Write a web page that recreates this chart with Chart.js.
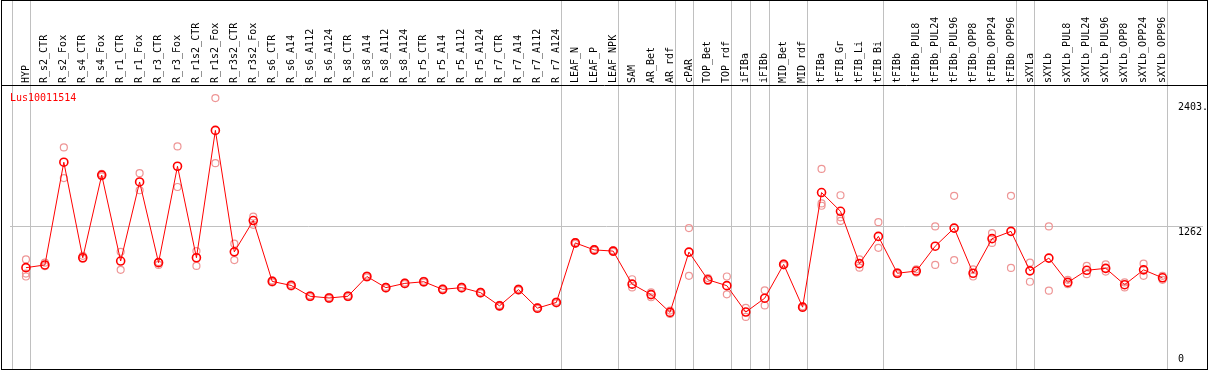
<!DOCTYPE html>
<html>
<head>
<title>Lus10011514</title>
<script src="https://cdn.jsdelivr.net/npm/chart.js@4.4.1/dist/chart.umd.min.js"></script>
<style>
  body { margin: 0; background: #fff; }
  canvas { display: block; }
</style>
<script>
var geneName = "Lus10011514";

var categories = [
    "HYP", "R_s2_CTR", "R_s2_Fox", "R_s4_CTR", "R_s4_Fox", "R_r1_CTR", "R_r1_Fox", "R_r3_CTR",
    "R_r3_Fox", "R_r1s2_CTR", "R_r1s2_Fox", "R_r3s2_CTR", "R_r3s2_Fox", "R_s6_CTR", "R_s6_A14",
    "R_s6_A112", "R_s6_A124", "R_s8_CTR", "R_s8_A14", "R_s8_A112", "R_s8_A124", "R_r5_CTR",
    "R_r5_A14", "R_r5_A112", "R_r5_A124", "R_r7_CTR", "R_r7_A14", "R_r7_A112", "R_r7_A124",
    "LEAF_N", "LEAF_P", "LEAF_NPK", "SAM", "AR_Bet", "AR_rdf", "cPAR", "TOP_Bet", "TOP_rdf",
    "iFIBa", "iFIBb", "MID_Bet", "MID_rdf", "tFIBa", "tFIB_Gr", "tFIB_Li", "tFIB_Bi", "tFIBb",
    "tFIBb_PUL8", "tFIBb_PUL24", "tFIBb_PUL96", "tFIBb_OPP8", "tFIBb_OPP24", "tFIBb_OPP96",
    "sXYLa", "sXYLb", "sXYLb_PUL8", "sXYLb_PUL24", "sXYLb_PUL96", "sXYLb_OPP8", "sXYLb_OPP24",
    "sXYLb_OPP96"
];

// mean expression per sample
var means = [
    887, 912, 1854, 978, 1736, 948, 1673, 933, 1817, 978, 2146, 1032, 1319,
    761, 724, 625, 609, 625, 806, 704, 743, 758, 688, 704, 658, 537, 686, 516, 568,
    1114, 1050, 1039, 736, 640, 477, 1030, 776, 722, 480, 607, 917, 525,
    1576, 1404, 924, 1174, 836, 856, 1084, 1250, 836, 1153, 1220,
    858, 975, 752, 863, 881, 731, 867, 794
];

// replicates
var rep1 = [
    963, 933, 1990, 996, 1748, 1032, 1754, 939, 1999, 1039, 2442, 1107, 1356,
    770, 733, 633, 617, 633, 815, 712, 751, 766, 696, 712, 666, 545, 694, 524, 576,
    1122, 1058, 1047, 781, 661, 494, 1250, 792, 806, 519, 679, 925, 533,
    1793, 1551, 963, 1304, 844, 872, 1265, 1546, 872, 1204, 1546,
    933, 1265, 776, 903, 917, 752, 924, 812
];
var rep2 = [
    833, 901, 1709, 969, 1725, 867, 1597, 912, 1627, 903, 1845, 957, 1280,
    752, 715, 617, 601, 617, 797, 696, 735, 750, 680, 696, 650, 529, 678, 508, 560,
    1106, 1042, 1031, 706, 616, 462, 812, 765, 643, 435, 541, 909, 517,
    1476, 1349, 887, 1069, 828, 842, 912, 957, 806, 1114, 885,
    758, 676, 736, 827, 851, 706, 812, 776
];
var rep3 = [
    806, null, null, null, null, null, null, null, null, null, null, null, null,
    null, null, null, null, null, null, null, null, null, null, null, null, null, null, null, null,
    null, null, null, null, null, null, null, null, null, null, null, null, null,
    1455, 1316, null, null, null, null, null, null, null, null, null,
    null, null, null, null, null, null, null, null
];

var yTicks = [0, 1262, 2403];
var yTickLabels = ["0", "1262", "2403."];

// sample index after which a group separator is drawn
var groupEnds = [-1, 0, 28, 31, 34, 35, 37, 38, 39, 41, 45, 52, 53, 60];

function points(arr) {
    return arr.map(function (v, i) { return v == null ? null : { x: i, y: v }; })
              .filter(function (p) { return p; });
}

var monoFont = '10px "DejaVu Sans Mono", monospace';

var framePlugin = {
    id: 'frame',
    beforeDatasetsDraw: function (chart) {
        var ctx = chart.ctx, xs = chart.scales.x;
        ctx.save();
        ctx.strokeStyle = 'rgb(192,192,192)';
        ctx.lineWidth = 1;
        groupEnds.forEach(function (i) {
            var px = Math.round(xs.getPixelForValue(i + 0.24)) + 0.5;
            ctx.beginPath();
            ctx.moveTo(px, 0);
            ctx.lineTo(px, 369);
            ctx.stroke();
        });
        ctx.restore();
    },
    afterDraw: function (chart) {
        var ctx = chart.ctx, ys = chart.scales.y, area = chart.chartArea;
        ctx.save();
        ctx.strokeStyle = '#000';
        ctx.lineWidth = 1;
        ctx.strokeRect(1.5, 0.5, 1206, 369);
        ctx.beginPath();
        ctx.moveTo(1, area.top - 0.5);
        ctx.lineTo(1208, area.top - 0.5);
        ctx.stroke();

        ctx.font = monoFont;
        ctx.textAlign = 'left';
        ctx.textBaseline = 'alphabetic';
        ctx.fillStyle = '#000';
        yTicks.forEach(function (v, k) {
            var py = ys.getPixelForValue(v) + 8;
            if (py > area.bottom - 2) py = area.bottom - 2;
            ctx.fillText(yTickLabels[k], 1178, py);
        });

        ctx.fillStyle = 'red';
        ctx.fillText(geneName, 10, 101);
        ctx.restore();
    }
};

window.addEventListener('load', function () {
    var repStyle = {
        showLine: false,
        pointRadius: 3.5,
        pointBorderWidth: 1.2,
        pointBorderColor: 'rgb(238,150,150)',
        pointBackgroundColor: 'rgba(0,0,0,0)'
    };
    new Chart(document.getElementById('chart').getContext('2d'), {
        type: 'line',
        data: {
            datasets: [{
                data: points(means),
                borderColor: 'red',
                borderWidth: 1,
                pointRadius: 4,
                pointBorderWidth: 1.6,
                pointBorderColor: 'red',
                pointBackgroundColor: 'rgba(0,0,0,0)',
                fill: false
            },
            Object.assign({ data: points(rep1) }, repStyle),
            Object.assign({ data: points(rep2) }, repStyle),
            Object.assign({ data: points(rep3) }, repStyle)
            ]
        },
        options: {
            responsive: false,
            animation: false,
            devicePixelRatio: 1,
            layout: { padding: { left: 10, right: 0, top: 0, bottom: 2 } },
            plugins: { legend: { display: false }, tooltip: { enabled: false } },
            scales: {
                x: {
                    type: 'linear',
                    position: 'top',
                    min: -16 / 19,
                    max: -16 / 19 + 63,
                    afterBuildTicks: function (s) {
                        s.ticks = categories.map(function (c, i) { return { value: i }; });
                    },
                    afterFit: function (s) { s.height = 86; },
                    grid: { display: false, drawTicks: false },
                    border: { display: false },
                    ticks: {
                        autoSkip: false,
                        minRotation: 90,
                        maxRotation: 90,
                        padding: 3,
                        labelOffset: 12,
                        color: '#000',
                        font: { family: '"DejaVu Sans Mono", monospace', size: 10 },
                        callback: function (v) { return categories[v]; }
                    }
                },
                y: {
                    position: 'right',
                    min: 0,
                    max: 2553,
                    afterBuildTicks: function (s) {
                        s.ticks = yTicks.map(function (v) { return { value: v }; });
                    },
                    afterFit: function (s) { s.width = 2; },
                    ticks: { display: false },
                    border: { display: false },
                    grid: {
                        drawTicks: false,
                        color: function (c) {
                            return c.tick && c.tick.value === yTicks[1] ? 'rgb(192,192,192)' : 'rgba(0,0,0,0)';
                        }
                    }
                }
            }
        },
        plugins: [framePlugin]
    });
});
</script>
</head>
<body>
<canvas id="chart" width="1209" height="370"></canvas>
</body>
</html>
